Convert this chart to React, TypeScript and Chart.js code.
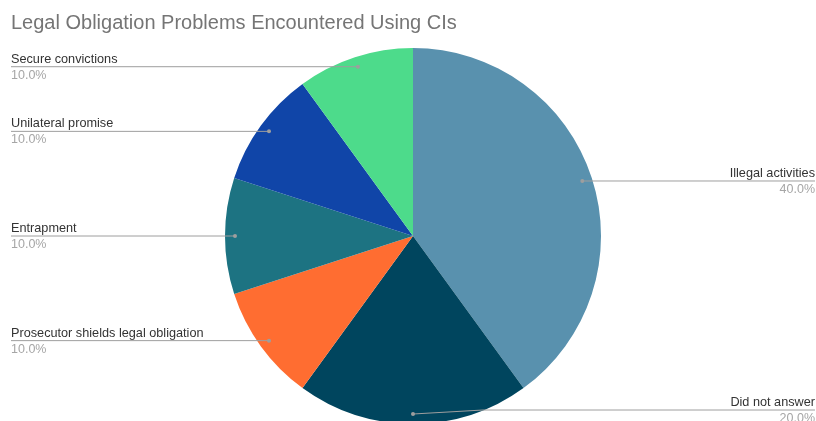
import React, { useEffect, useRef } from "react";
import { Chart, registerables } from "chart.js";

Chart.register(...registerables);

const TITLE = "Legal Obligation Problems Encountered Using CIs";
const categories = [
  "Illegal activities",
  "Did not answer",
  "Prosecutor shields legal obligation",
  "Entrapment",
  "Unilateral promise",
  "Secure convictions",
];
const values = [40, 20, 10, 10, 10, 10];
const colors = ["#5991ae", "#00455e", "#ff6d31", "#1d7382", "#1045a8", "#4ddb8b"];

const VISIBLE_H = 421;
const FONT = "'Liberation Sans', Arial, sans-serif";

const labelPlugin = {
  id: "pieLabels",
  afterDraw(chart: any) {
    const ctx = chart.ctx;
    const meta = chart.getDatasetMeta(0);
    const total = values.reduce((a, b) => a + b, 0);
    ctx.save();
    ctx.font = `20px ${FONT}`;
    ctx.fillStyle = "#757575";
    ctx.textAlign = "left";
    ctx.textBaseline = "alphabetic";
    ctx.fillText(TITLE, 11, 29);

    meta.data.forEach((arc: any, i: number) => {
      const mid = (arc.startAngle + arc.endAngle) / 2;
      const r = arc.outerRadius - 10;
      const dx = arc.x + Math.cos(mid) * r;
      const dy = arc.y + Math.sin(mid) * r;
      const right = Math.cos(mid) >= -1e-6;
      const ly = Math.min(dy, VISIBLE_H - 11);
      ctx.strokeStyle = "#9e9e9e";
      ctx.lineWidth = 1;
      ctx.beginPath();
      if (right) {
        ctx.moveTo(dx, dy);
        if (Math.abs(ly - dy) > 0.5) ctx.lineTo(dx + 70, ly);
        ctx.lineTo(815, ly);
      } else {
        ctx.moveTo(11, ly);
        if (Math.abs(ly - dy) > 0.5) ctx.lineTo(dx - 70, ly);
        ctx.lineTo(dx, dy);
      }
      ctx.stroke();
      ctx.fillStyle = "#9e9e9e";
      ctx.beginPath();
      ctx.arc(dx, dy, 2, 0, Math.PI * 2);
      ctx.fill();

      const tx = right ? 815 : 11;
      ctx.textAlign = right ? "right" : "left";
      ctx.font = `12.7px ${FONT}`;
      ctx.fillStyle = "#333333";
      ctx.fillText(categories[i], tx, ly - 4);
      ctx.font = `12.5px ${FONT}`;
      ctx.fillStyle = "#a6a6a6";
      ctx.fillText(((values[i] / total) * 100).toFixed(1) + "%", tx, ly + 12);
    });
    ctx.restore();
  },
};

export default function App() {
  const ref = useRef<HTMLCanvasElement>(null);
  useEffect(() => {
    if (!ref.current) return;
    const chart = new Chart(ref.current, {
      type: "pie",
      data: {
        labels: categories,
        datasets: [
          {
            data: values,
            backgroundColor: colors,
            borderWidth: 0,
            hoverOffset: 0,
            offset: 0,
          },
        ],
      },
      options: {
        responsive: false,
        animation: false,
        layout: { padding: { left: 225, right: 215, top: 48, bottom: 16 } },
        plugins: {
          legend: { display: false },
          tooltip: { enabled: false },
          title: { display: false },
        },
        events: [],
      },
      plugins: [labelPlugin],
    });
    return () => chart.destroy();
  }, []);
  return (
    <div
      style={{
        position: "absolute",
        left: 0,
        top: 0,
        width: 816,
        height: VISIBLE_H,
        overflow: "hidden",
        background: "#ffffff",
      }}
    >
      <canvas ref={ref} width={816} height={440} style={{ display: "block" }} />
    </div>
  );
}
